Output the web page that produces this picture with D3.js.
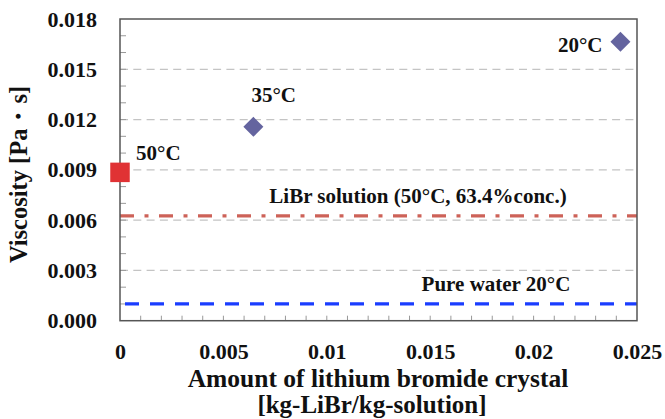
<!DOCTYPE html>
<html>
<head>
<meta charset="utf-8">
<script src="https://cdn.jsdelivr.net/npm/d3@7"></script>
<style>
  html, body { margin: 0; padding: 0; background: #fff; }
  svg text { font-family: "Liberation Serif", "Times New Roman", serif; font-weight: bold; fill: #111; }
</style>
</head>
<body>
<svg id="chart" width="665" height="419"></svg>
<script>
// Crystal content vs. viscosity
const seriesNames = ["50°C", "35°C", "20°C"];
const crystalAmount = [0, 0.00645, 0.0242];      // kg-LiBr / kg-solution
const viscosity = [0.00885, 0.01157, 0.01665];    // Pa·s
const markerShape = ["square", "diamond", "diamond"];

// Reference levels
const refNames = ["LiBr solution (50°C, 63.4%conc.)", "Pure water 20°C"];
const refValues = [0.00625, 0.001];

// Axis ticks
const xTicks = [0, 0.005, 0.01, 0.015, 0.02, 0.025];
const xTickLabels = ["0", "0.005", "0.01", "0.015", "0.02", "0.025"];
const yTicks = [0, 0.003, 0.006, 0.009, 0.012, 0.015, 0.018];
const yTickLabels = ["0.000", "0.003", "0.006", "0.009", "0.012", "0.015", "0.018"];

const svg = d3.select("#chart");
const plotLeft = 120, plotRight = 637, plotTop = 19, plotBottom = 320.7;

const x = d3.scaleLinear().domain([0, 0.025]).range([plotLeft, plotRight]);
const y = d3.scaleLinear().domain([0, 0.018]).range([plotBottom, plotTop]);

// Horizontal grid
svg.append("g").selectAll("line")
  .data(yTicks.filter(v => v > 0 && v < 0.018))
  .join("line")
  .attr("x1", plotLeft).attr("x2", plotRight)
  .attr("y1", d => y(d)).attr("y2", d => y(d))
  .attr("stroke", "#c4c4c4").attr("stroke-width", 1.2)
  .attr("stroke-dasharray", "8,5.3");

// Minor ticks (inside the frame)
const minorY = d3.range(1, 18).map(i => i * 0.001);
svg.append("g").selectAll("line").data(minorY).join("line")
  .attr("x1", plotLeft).attr("x2", plotLeft + 6)
  .attr("y1", d => y(d)).attr("y2", d => y(d))
  .attr("stroke", "#999").attr("stroke-width", 1);
const minorX = d3.range(1, 25).map(i => i * 0.001);
svg.append("g").selectAll("line").data(minorX).join("line")
  .attr("x1", d => x(d)).attr("x2", d => x(d))
  .attr("y1", plotBottom).attr("y2", plotBottom - 5)
  .attr("stroke", "#999").attr("stroke-width", 1);

// Reference lines
svg.append("line")
  .attr("x1", plotLeft).attr("x2", plotRight)
  .attr("y1", y(refValues[0])).attr("y2", y(refValues[0]))
  .attr("stroke", "#cd6258").attr("stroke-width", 3.3)
  .attr("stroke-dasharray", "14,10.5,4,10.5");
svg.append("line")
  .attr("x1", plotLeft).attr("x2", plotRight)
  .attr("y1", y(refValues[1])).attr("y2", y(refValues[1]))
  .attr("stroke", "#1a3dff").attr("stroke-width", 3.3)
  .attr("stroke-dasharray", "14,11").attr("stroke-dashoffset", -5);

// Plot frame
svg.append("rect")
  .attr("x", plotLeft).attr("y", plotTop)
  .attr("width", plotRight - plotLeft).attr("height", plotBottom - plotTop)
  .attr("fill", "none").attr("stroke", "#555").attr("stroke-width", 1.5);

// Axes (labels only; frame drawn above)
const yAxis = svg.append("g")
  .attr("transform", `translate(${plotLeft},0)`)
  .call(d3.axisLeft(y).tickValues(yTicks).tickFormat((d, i) => yTickLabels[i]).tickSize(0).tickPadding(23));
yAxis.select(".domain").remove();
yAxis.selectAll("text").style("font-size", "22px").style("font-family", "'Liberation Serif', serif").attr("fill", "#111");

const xAxis = svg.append("g")
  .attr("transform", `translate(0,${plotBottom})`)
  .call(d3.axisBottom(x).tickValues(xTicks).tickFormat((d, i) => xTickLabels[i]).tickSize(0).tickPadding(23));
xAxis.select(".domain").remove();
xAxis.selectAll("text").style("font-size", "22px").style("font-family", "'Liberation Serif', serif").attr("fill", "#111");

// Data markers
const pts = seriesNames.map((n, i) => ({ name: n, xv: crystalAmount[i], yv: viscosity[i], shape: markerShape[i] }));
svg.append("g").selectAll("path").data(pts).join("path")
  .attr("transform", d => `translate(${x(d.xv)},${y(d.yv)})`)
  .attr("d", d => d.shape === "square"
    ? d3.symbol(d3.symbolSquare, 380)()
    : "M0,-10L10,0L0,10L-10,0Z")
  .attr("fill", d => d.shape === "square" ? "#e03234" : "#64649f");

// Point labels
const ptLabelPos = [
  { dx: 16, dy: -12, anchor: "start" },
  { dx: -2, dy: -25, anchor: "start" },
  { dx: -18, dy: 10, anchor: "end" }
];
svg.append("g").selectAll("text").data(pts).join("text")
  .attr("x", (d, i) => x(d.xv) + ptLabelPos[i].dx)
  .attr("y", (d, i) => y(d.yv) + ptLabelPos[i].dy)
  .attr("text-anchor", (d, i) => ptLabelPos[i].anchor)
  .style("font-size", "21px")
  .text(d => d.name);

// Reference labels
svg.append("text")
  .attr("x", 418).attr("y", y(refValues[0]) - 13)
  .attr("text-anchor", "middle").style("font-size", "21px")
  .text(refNames[0]);
svg.append("text")
  .attr("x", 496).attr("y", y(refValues[1]) - 13)
  .attr("text-anchor", "middle").style("font-size", "21px")
  .text(refNames[1]);

// Axis titles
svg.append("text")
  .attr("transform", `translate(27,174.5) rotate(-90)`)
  .attr("text-anchor", "middle").style("font-size", "24.5px")
  .text("Viscosity [Pa・s]");
svg.append("text")
  .attr("x", 378).attr("y", 387)
  .attr("text-anchor", "middle").style("font-size", "25.5px")
  .text("Amount of lithium bromide crystal");
svg.append("text")
  .attr("x", 372).attr("y", 413)
  .attr("text-anchor", "middle").style("font-size", "25px")
  .text("[kg-LiBr/kg-solution]");
</script>
</body>
</html>
